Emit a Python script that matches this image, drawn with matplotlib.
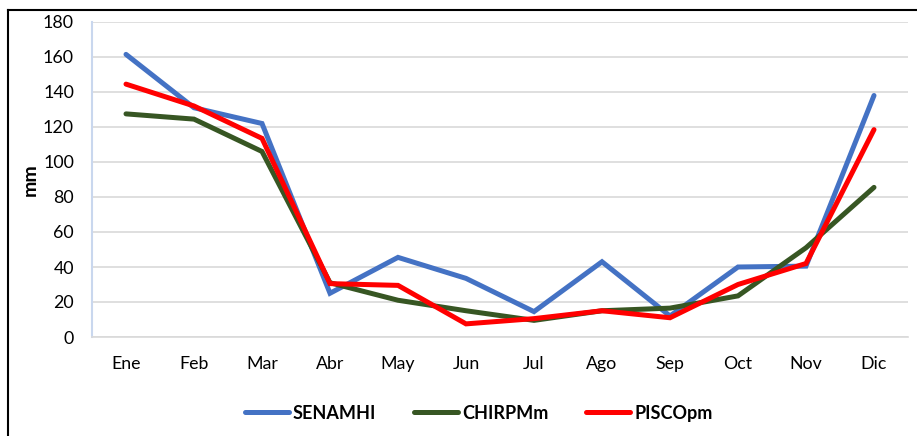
import numpy as np
import matplotlib.pyplot as plt
from matplotlib.lines import Line2D

plt.rcParams["font.family"] = ["Lato", "DejaVu Sans"]

# Monthly precipitation (mm)
months = ["Ene", "Feb", "Mar", "Abr", "May", "Jun",
          "Jul", "Ago", "Sep", "Oct", "Nov", "Dic"]
senamhi = [161.5, 131, 122, 25, 45.5, 33.5, 14.5, 43, 12, 40, 40.5, 138]
chirpmm = [127.5, 124.5, 106, 31, 21, 15, 9.5, 15, 16.5, 23.5, 51, 85.5]
piscopm = [144.5, 132, 113.5, 30.5, 29.5, 7.5, 10.5, 15, 11, 30, 42, 118.5]

series = [
    ("SENAMHI", senamhi, "#4472C4"),
    ("CHIRPMm", chirpmm, "#375623"),
    ("PISCOpm", piscopm, "#FF0000"),
]

fig = plt.figure(figsize=(9.17, 4.36), dpi=100)
ax = fig.add_axes([92 / 917, 1 - 337 / 436, 816 / 917, 315 / 436])

x = np.arange(len(months))
for name, values, color in series:
    ax.plot(x, values, color=color, linewidth=3.6, label=name,
            solid_capstyle="round", solid_joinstyle="miter")

ax.set_xlim(-0.5, len(months) - 0.5)
ax.set_ylim(0, 180)
ax.set_yticks(np.arange(0, 181, 20))
ax.set_xticks(x)
ax.set_xticklabels(months)
ax.tick_params(axis="both", length=0, labelsize=12.8, colors="black")
ax.tick_params(axis="x", pad=14)
ax.tick_params(axis="y", pad=13)
ax.grid(axis="y", color="#D9D9D9", linewidth=1.2)
ax.set_axisbelow(True)
for side in ["top", "right"]:
    ax.spines[side].set_visible(False)
ax.spines["left"].set_color("#C9D7EE")
ax.spines["left"].set_linewidth(1.5)
ax.spines["bottom"].set_color("#D9D9D9")
ax.spines["bottom"].set_linewidth(1.2)
ax.set_ylabel("mm", fontsize=14, fontweight="bold", labelpad=3)

leg = fig.legend(loc="center", bbox_to_anchor=(0.522, 1 - 413 / 436), ncol=3,
                 frameon=False, prop={"weight": "bold", "size": 13},
                 handlelength=2.45, handletextpad=0.2, columnspacing=2.1)

# outer frame (left and top only visible)
fig.add_artist(Line2D([8 / 917, 8 / 917], [0, 1 - 10 / 436],
                      transform=fig.transFigure, color="black", linewidth=1.5))
fig.add_artist(Line2D([8 / 917, 1], [1 - 10 / 436, 1 - 10 / 436],
                      transform=fig.transFigure, color="black", linewidth=1.5))

fig.savefig("out.png", dpi=100)
